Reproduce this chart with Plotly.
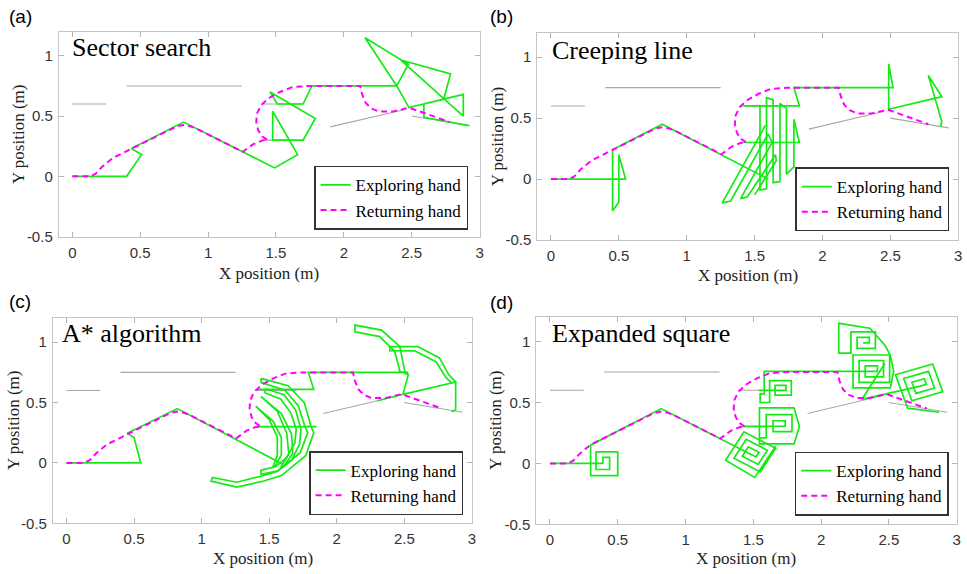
import plotly.graph_objects as go

# ---------------- data (metres) ----------------
X_TICKS = [0, 0.5, 1, 1.5, 2, 2.5, 3]
X_TICK_TEXT = ["0", "0.5", "1", "1.5", "2", "2.5", "3"]
Y_TICKS = [-0.5, 0, 0.5, 1]
Y_TICK_TEXT = ["-0.5", "0", "0.5", "1"]

PANEL_TITLES = ["Sector search", "Creeping line", "A* algorithm", "Expanded square"]
PANEL_LABELS = ["(a)", "(b)", "(c)", "(d)"]
SERIES_NAMES = ["Exploring hand", "Returning hand"]

# grey environment segments (None = break)
WALLS = [(0, 0.6), (0.25, 0.6), None,
         (0.40, 0.75), (1.25, 0.75), None,
         (1.40, 0.60), (1.70, 0.60), None,
         (1.40, 0.30), (1.60, 0.30), None,
         (1.90, 0.41), (2.45, 0.555), None,
         (2.50, 0.50), (2.93, 0.42)]

# returning hand path (same in all panels)
RETURN = [(0, 0), (0.13, 0), (0.17, 0.02), (0.22, 0.08), (0.30, 0.153), (0.72, 0.393),
          (0.77, 0.415), (0.82, 0.425), (0.87, 0.415), (0.92, 0.393), (1.256, 0.203),
          (1.33, 0.265), (1.40, 0.298), (1.44, 0.30), (1.40, 0.33), (1.37, 0.38),
          (1.355, 0.45), (1.36, 0.52), (1.39, 0.59), (1.45, 0.65), (1.53, 0.70),
          (1.62, 0.74), (1.74, 0.75), (2.12, 0.75), (2.135, 0.68), (2.16, 0.61),
          (2.20, 0.565), (2.26, 0.537), (2.36, 0.537), (2.48, 0.57), (2.60, 0.523),
          (2.70, 0.48), (2.78, 0.45)]

# exploring hand, (a) sector search
A_EXPLORE = [(0, 0), (0.40, 0), (0.51, 0.18), (0.435, 0.23), (0.82, 0.45), (1.49, 0.07),
             (1.66, 0.18), (1.476, 0.54), (1.476, 0.30), (1.70, 0.30), (1.79, 0.48),
             (1.457, 0.70), (1.51, 0.60), (1.70, 0.60), (1.765, 0.75), (2.39, 0.75),
             (2.156, 1.15), (2.475, 0.93), (2.39, 0.75), (2.48, 0.57), (2.88, 0.68),
             (2.88, 0.50), (2.42, 0.965), (2.786, 0.85), (2.736, 0.64), (2.59, 0.60),
             (2.59, 0.49), (2.92, 0.42)]

# exploring hand, (b) creeping line
B_EXPLORE = [(0, 0), (0.55, 0), (0.50, 0.20), (0.50, -0.19), (0.454, -0.26), (0.454, 0.24),
             (0.82, 0.45), (1.60, 0.0), None,
             (1.58, 0.44), (1.262, -0.195), (1.324, -0.18), (1.60, 0.37), (1.63, 0.30),
             (1.397, -0.16), (1.446, -0.148), (1.654, 0.20), (1.66, 0.15), (1.50, -0.13), None,
             (1.54, 0.61), (1.54, -0.09), (1.588, -0.08), (1.588, 0.668), (1.637, 0.65),
             (1.637, -0.03), (1.687, -0.02), (1.687, 0.62), (1.735, 0.58), (1.735, 0.04),
             (1.79, 0.10), (1.79, 0.49), (1.83, 0.30), (1.42, 0.30), None,
             (1.42, 0.60), (1.83, 0.60), (1.79, 0.75), (2.52, 0.75), (2.488, 0.946),
             (2.488, 0.573), (2.88, 0.676), (2.78, 0.85), (2.88, 0.47), (2.87, 0.43)]

# exploring hand, (c) A* algorithm
C_EXPLORE = [(0, 0), (0.55, 0), (0.50, 0.21), (0.45, 0.245), (0.82, 0.45), (1.60, -0.01), None,
             (1.44, 0.70), (1.64, 0.64), (1.76, 0.50), (1.81, 0.30), (1.83, 0.25), (1.77, 0.06),
             (1.59, -0.105), (1.46, -0.15), (1.26, -0.20), (1.07, -0.15), (1.08, -0.12),
             (1.26, -0.16), (1.44, -0.11), (1.56, -0.07), (1.73, 0.085), (1.785, 0.25),
             (1.765, 0.30), (1.715, 0.475), (1.615, 0.605), (1.44, 0.665), (1.44, 0.70), None,
             (1.47, 0.615), (1.61, 0.565), (1.695, 0.44), (1.735, 0.28), (1.725, 0.155),
             (1.665, 0.02), (1.565, -0.065), (1.44, -0.095), (1.44, -0.06), (1.55, -0.03),
             (1.63, 0.045), (1.69, 0.165), (1.70, 0.28), (1.66, 0.415), (1.585, 0.53),
             (1.47, 0.58), (1.47, 0.615), None,
             (1.40, 0.47), (1.50, 0.36), (1.56, 0.215), (1.56, 0.06), (1.525, -0.04),
             (1.545, -0.025), (1.59, 0.065), (1.59, 0.21), (1.53, 0.345), (1.425, 0.45),
             (1.40, 0.47), None,
             (1.44, 0.55), (1.56, 0.43), (1.63, 0.245), (1.645, 0.075), (1.585, -0.04),
             (1.61, -0.025), (1.675, 0.08), (1.665, 0.24), (1.59, 0.41), (1.46, 0.525),
             (1.44, 0.55), None,
             (1.41, 0.30), (1.85, 0.30), None,
             (1.41, 0.61), (1.83, 0.61), (1.79, 0.75), (2.53, 0.75), None,
             (2.30, 0.515), (2.49, 0.568), (2.53, 0.73), (2.467, 0.76), (2.429, 0.923),
             (2.318, 1.047), (2.135, 1.087), (2.135, 1.142), (2.331, 1.10), (2.467, 0.965),
             (2.503, 0.76), (2.53, 0.73), None,
             (2.49, 0.568), (2.88, 0.67), (2.83, 0.73), (2.76, 0.87), (2.60, 0.964),
             (2.393, 0.964), (2.393, 0.93), (2.577, 0.929), (2.736, 0.836), (2.81, 0.705),
             (2.85, 0.664), (2.88, 0.67), (2.88, 0.44), (2.85, 0.425)]

# exploring hand, (d) expanded square
D_EXPLORE = [(0, 0), (0.39, 0), (0.39, 0.05), (0.44, 0.05), (0.44, -0.05), (0.34, -0.05),
             (0.34, 0.095), (0.50, 0.095), (0.50, -0.10), (0.30, -0.10), (0.30, 0.15),
             (0.82, 0.45), (1.48, 0.075), (1.519, 0.0525), (1.5415, 0.0915), (1.4635, 0.1365),
             (1.4185, 0.0585), (1.5355, -0.009), (1.603, 0.108), (1.447, 0.198), (1.357, 0.042),
             (1.552, -0.0705), (1.6645, 0.1245), (1.4305, 0.2595), (1.2955, 0.0255),
             (1.51, -0.115), (1.665, 0.14), None,
             (1.43, 0.305), (1.69, 0.305), (1.735, 0.305), (1.735, 0.35), (1.645, 0.35),
             (1.645, 0.26), (1.785, 0.26), (1.785, 0.40), (1.595, 0.40), (1.595, 0.21),
             (1.545, 0.21), (1.545, 0.455), (1.80, 0.455), (1.84, 0.305), (1.80, 0.16),
             (1.545, 0.16), (1.545, 0.21), None,
             (1.54, 0.60), (1.70, 0.60), (1.74, 0.60), (1.74, 0.64), (1.66, 0.64), (1.66, 0.56),
             (1.78, 0.56), (1.78, 0.68), (1.62, 0.68), (1.62, 0.50), (1.55, 0.50), (1.55, 0.57),
             (1.58, 0.57), (1.58, 0.755), (2.37, 0.755), (2.415, 0.755), (2.415, 0.80),
             (2.325, 0.80), (2.325, 0.71), (2.46, 0.71), (2.46, 0.845), (2.28, 0.845),
             (2.28, 0.665), (2.505, 0.665), (2.505, 0.89), (2.235, 0.89), (2.235, 0.62),
             (2.51, 0.62), (2.535, 0.755), (2.51, 0.89), (2.47, 0.97), (2.36, 1.11),
             (2.13, 1.15), (2.13, 0.905), (2.22, 0.905), (2.22, 1.08), (2.40, 1.08),
             (2.40, 0.945), (2.265, 0.945), (2.265, 1.035), (2.355, 1.035), (2.355, 0.99),
             (2.31, 0.99), None,
             (2.47, 0.82), (2.30, 0.525), (2.73, 0.635), (2.7756, 0.6498), (2.7608, 0.6955),
             (2.6695, 0.6658), (2.6992, 0.5745), (2.8361, 0.619), (2.7916, 0.756),
             (2.609, 0.6966), (2.6684, 0.514), (2.8966, 0.5882), (2.8224, 0.8164),
             (2.5486, 0.7274), (2.6376, 0.4536), (2.87, 0.42)]

EXPLORE = [A_EXPLORE, B_EXPLORE, C_EXPLORE, D_EXPLORE]

# ---------------- styling / layout ----------------
GREEN = "#14ea14"
MAGENTA = "#ff00ff"
GREY = "#a8a8a8"
SERIF = "Liberation Serif, Times New Roman, serif"
SANS = "Liberation Sans, Arial, sans-serif"

# axis domains (paper fractions) for panels a..d
X_DOM = [(0.061, 0.498), (0.558, 0.995), (0.055, 0.490), (0.557, 0.9935)]
Y_DOM = [(0.582, 0.944), (0.576, 0.942), (0.0755, 0.438), (0.0737, 0.4395)]
LEG_POS = [(0.486, 0.594), (0.9858, 0.591), (0.4809, 0.090), (0.9852, 0.089)]
TITLE_POS = [(0.0731, 0.9164), (0.5716, 0.910), (0.062, 0.4106), (0.5716, 0.4106)]
LABEL_POS = [(0.0072, 0.971), (0.5067, 0.970), (0.0072, 0.467), (0.5067, 0.465)]
XT_POS = [(0.2796, 0.5175), (0.7766, 0.514), (0.2727, 0.0125), (0.775, 0.0125)]
YT_POS = [(0.0186, 0.763), (0.516, 0.759), (0.0138, 0.2566), (0.5153, 0.2566)]


def split(pts):
    xs = [p[0] if p is not None else None for p in pts]
    ys = [p[1] if p is not None else None for p in pts]
    return xs, ys


wall_x, wall_y = split(WALLS)
ret_x, ret_y = split(RETURN)

fig = go.Figure()
layout = dict(width=967, height=574, margin=dict(l=0, r=0, t=0, b=0),
              paper_bgcolor="white", plot_bgcolor="white", annotations=[])

for i in range(4):
    n = "" if i == 0 else str(i + 1)
    xa, ya, lg = "x" + n, "y" + n, "legend" + n
    ex, ey = split(EXPLORE[i])
    fig.add_trace(go.Scatter(x=wall_x, y=wall_y, mode="lines", showlegend=False,
                             line=dict(color=GREY, width=1.1), hoverinfo="skip",
                             xaxis=xa, yaxis=ya))
    fig.add_trace(go.Scatter(x=ex, y=ey, mode="lines", name=SERIES_NAMES[0],
                             line=dict(color=GREEN, width=1.7), legend=lg,
                             xaxis=xa, yaxis=ya))
    fig.add_trace(go.Scatter(x=ret_x, y=ret_y, mode="lines", name=SERIES_NAMES[1],
                             line=dict(color=MAGENTA, width=2, dash="6px,4px"), legend=lg,
                             xaxis=xa, yaxis=ya))

    axis_common = dict(showgrid=False, zeroline=False, showline=True, linecolor="#c4c4c4",
                       linewidth=1, mirror="ticks", ticks="inside", ticklen=5,
                       tickcolor="#b4b4b4", tickfont=dict(family=SANS, size=15, color="#333"))
    layout["xaxis" + n] = dict(axis_common, domain=list(X_DOM[i]), range=[-0.1, 3.0],
                               tickvals=X_TICKS, ticktext=X_TICK_TEXT, anchor=ya,
                               ticklabelstandoff=2)
    layout["yaxis" + n] = dict(axis_common, domain=list(Y_DOM[i]), range=[-0.5, 1.2],
                               tickvals=Y_TICKS, ticktext=Y_TICK_TEXT, anchor=xa,
                               ticklabelstandoff=2)
    layout[lg] = dict(x=LEG_POS[i][0], y=LEG_POS[i][1], xanchor="right", yanchor="bottom",
                      bgcolor="white", bordercolor="#333", borderwidth=1.5,
                      font=dict(family=SERIF, size=17, color="black"),
                      itemwidth=30, tracegroupgap=0)
    ann = layout["annotations"]
    ann.append(dict(text=PANEL_TITLES[i], x=TITLE_POS[i][0], y=TITLE_POS[i][1],
                    xref="paper", yref="paper", xanchor="left", yanchor="middle",
                    showarrow=False, font=dict(family=SERIF, size=26, color="black")))
    ann.append(dict(text=PANEL_LABELS[i], x=LABEL_POS[i][0], y=LABEL_POS[i][1],
                    xref="paper", yref="paper", xanchor="left", yanchor="middle",
                    showarrow=False, font=dict(family=SANS, size=19, color="black")))
    ann.append(dict(text="X position (m)", x=XT_POS[i][0], y=XT_POS[i][1],
                    xref="paper", yref="paper", xanchor="center", yanchor="middle",
                    showarrow=False, font=dict(family=SERIF, size=17, color="#222")))
    ann.append(dict(text="Y position (m)", x=YT_POS[i][0], y=YT_POS[i][1],
                    xref="paper", yref="paper", xanchor="center", yanchor="middle",
                    textangle=-90, showarrow=False,
                    font=dict(family=SERIF, size=17, color="#222")))

fig.update_layout(**layout)
fig.write_html("out.html")
